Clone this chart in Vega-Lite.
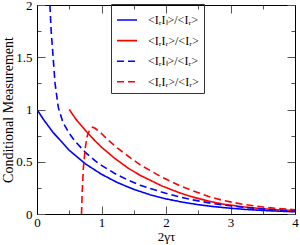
{
  "$schema": "https://vega.github.io/schema/vega-lite/v6.json",
  "width": 258,
  "height": 209,
  "autosize": {"type": "none"},
  "padding": {"left": 37, "top": 5, "right": 5, "bottom": 31},
  "background": "white",
  "config": {
    "view": {"stroke": null},
    "font": "Liberation Serif",
    "axis": {"labelFont": "Liberation Serif", "titleFont": "Liberation Serif", "labelFontSize": 13, "titleFontSize": 14, "titleFontWeight": "normal", "labelColor": "black", "titleColor": "black", "domainColor": "black", "tickColor": "#555", "grid": false}
  },
  "data": {"values": [
    {"t": 0, "v": 1, "s": "a"}, {"t": 0.1, "v": 0.905, "s": "a"}, {"t": 0.25, "v": 0.78, "s": "a"}, {"t": 0.5, "v": 0.61, "s": "a"}, {"t": 0.75, "v": 0.48, "s": "a"}, {"t": 1, "v": 0.38, "s": "a"}, {"t": 1.25, "v": 0.3, "s": "a"}, {"t": 1.5, "v": 0.236, "s": "a"}, {"t": 1.75, "v": 0.185, "s": "a"}, {"t": 2, "v": 0.145, "s": "a"}, {"t": 2.25, "v": 0.114, "s": "a"}, {"t": 2.5, "v": 0.089, "s": "a"}, {"t": 2.75, "v": 0.07, "s": "a"}, {"t": 3, "v": 0.055, "s": "a"}, {"t": 3.25, "v": 0.043, "s": "a"}, {"t": 3.5, "v": 0.034, "s": "a"}, {"t": 3.75, "v": 0.027, "s": "a"}, {"t": 4, "v": 0.021, "s": "a"},
    {"t": 0.5, "v": 1.0, "s": "b"}, {"t": 0.6, "v": 0.91, "s": "b"}, {"t": 0.75, "v": 0.8, "s": "b"}, {"t": 0.9, "v": 0.7, "s": "b"}, {"t": 1.0, "v": 0.64, "s": "b"}, {"t": 1.2, "v": 0.535, "s": "b"}, {"t": 1.41, "v": 0.44, "s": "b"}, {"t": 1.6, "v": 0.37, "s": "b"}, {"t": 1.93, "v": 0.27, "s": "b"}, {"t": 2.2, "v": 0.205, "s": "b"}, {"t": 2.4, "v": 0.165, "s": "b"}, {"t": 2.65, "v": 0.125, "s": "b"}, {"t": 2.88, "v": 0.095, "s": "b"}, {"t": 3.2, "v": 0.068, "s": "b"}, {"t": 3.5, "v": 0.05, "s": "b"}, {"t": 3.75, "v": 0.04, "s": "b"}, {"t": 4, "v": 0.033, "s": "b"},
    {"t": 0.2, "v": 2.0, "s": "c"}, {"t": 0.22, "v": 1.75, "s": "c"}, {"t": 0.25, "v": 1.5, "s": "c"}, {"t": 0.28, "v": 1.25, "s": "c"}, {"t": 0.33, "v": 1.02, "s": "c"}, {"t": 0.4, "v": 0.88, "s": "c"}, {"t": 0.5, "v": 0.77, "s": "c"}, {"t": 0.6, "v": 0.69, "s": "c"}, {"t": 0.75, "v": 0.59, "s": "c"}, {"t": 0.9, "v": 0.51, "s": "c"}, {"t": 1, "v": 0.465, "s": "c"}, {"t": 1.2, "v": 0.39, "s": "c"}, {"t": 1.41, "v": 0.325, "s": "c"}, {"t": 1.6, "v": 0.275, "s": "c"}, {"t": 1.93, "v": 0.21, "s": "c"}, {"t": 2.2, "v": 0.165, "s": "c"}, {"t": 2.4, "v": 0.137, "s": "c"}, {"t": 2.7, "v": 0.103, "s": "c"}, {"t": 2.88, "v": 0.087, "s": "c"}, {"t": 3.2, "v": 0.064, "s": "c"}, {"t": 3.5, "v": 0.048, "s": "c"}, {"t": 3.75, "v": 0.038, "s": "c"}, {"t": 4, "v": 0.03, "s": "c"},
    {"t": 0.69, "v": 0, "s": "d"}, {"t": 0.7, "v": 0.2, "s": "d"}, {"t": 0.72, "v": 0.45, "s": "d"}, {"t": 0.75, "v": 0.64, "s": "d"}, {"t": 0.78, "v": 0.75, "s": "d"}, {"t": 0.82, "v": 0.81, "s": "d"}, {"t": 0.86, "v": 0.83, "s": "d"}, {"t": 0.9, "v": 0.82, "s": "d"}, {"t": 1, "v": 0.77, "s": "d"}, {"t": 1.1, "v": 0.71, "s": "d"}, {"t": 1.25, "v": 0.63, "s": "d"}, {"t": 1.41, "v": 0.555, "s": "d"}, {"t": 1.6, "v": 0.47, "s": "d"}, {"t": 1.93, "v": 0.355, "s": "d"}, {"t": 2.2, "v": 0.275, "s": "d"}, {"t": 2.4, "v": 0.225, "s": "d"}, {"t": 2.65, "v": 0.17, "s": "d"}, {"t": 2.88, "v": 0.13, "s": "d"}, {"t": 3.2, "v": 0.092, "s": "d"}, {"t": 3.5, "v": 0.067, "s": "d"}, {"t": 3.75, "v": 0.052, "s": "d"}, {"t": 4, "v": 0.041, "s": "d"}
  ]},
  "layer": [
    {
      "mark": {"type": "line", "strokeWidth": 1.6, "clip": true},
      "encoding": {
        "x": {"field": "t", "type": "quantitative", "scale": {"domain": [0, 4], "nice": false},
          "axis": {"orient": "bottom", "title": "2γτ", "titleFontSize": 13, "values": [0, 0.5, 1, 1.5, 2, 2.5, 3, 3.5, 4], "labelExpr": "datum.value % 1 === 0 ? format(datum.value, '~g') : ''", "tickSize": {"condition": {"test": "datum.value % 1 === 0", "value": -8}, "value": -4}, "labelPadding": 10, "titlePadding": -3, "labelFlush": false, "labelOverlap": false}},
        "y": {"field": "v", "type": "quantitative", "scale": {"domain": [0, 2], "nice": false},
          "axis": {"orient": "left", "title": "Conditional Measurement", "values": [0, 0.25, 0.5, 0.75, 1, 1.25, 1.5, 1.75, 2], "labelExpr": "(datum.value * 2) % 1 === 0 ? format(datum.value, '~g') : ''", "tickSize": {"condition": {"test": "(datum.value * 2) % 1 === 0", "value": -8}, "value": -4}, "labelPadding": 13, "titlePadding": 0, "labelFlush": false, "labelOverlap": false}},
        "color": {"field": "s", "type": "nominal", "scale": {"domain": ["a", "b", "c", "d"], "range": ["#0000ff", "#ff0000", "#0000ff", "#ff0000"]},
          "legend": {"orient": "none", "legendX": 74, "legendY": -1, "title": null, "symbolType": "stroke", "symbolSize": 400, "symbolStrokeWidth": 1.6, "labelFont": "Liberation Serif", "labelFontSize": 12, "labelColor": "black", "labelOffset": 10, "strokeColor": "#333", "padding": 5, "rowPadding": 3.6, "labelExpr": "datum.value === 'a' || datum.value === 'c' ? '<IᵣIₗ>/<Iᵣ>' : '<IᵣIᵣ>/<Iᵣ>'"}},
        "strokeDash": {"field": "s", "type": "nominal", "scale": {"domain": ["a", "b", "c", "d"], "range": [[1, 0], [1, 0], [7, 4], [7, 4]]},
          "legend": {"orient": "none", "legendX": 74, "legendY": -1, "title": null, "symbolType": "stroke", "symbolSize": 400, "symbolStrokeWidth": 1.6, "labelFont": "Liberation Serif", "labelFontSize": 12, "labelColor": "black", "labelOffset": 10, "strokeColor": "#333", "padding": 5, "rowPadding": 3.6, "labelExpr": "datum.value === 'a' || datum.value === 'c' ? '<IᵣIₗ>/<Iᵣ>' : '<IᵣIᵣ>/<Iᵣ>'"}}
      }
    },
    {
      "mark": {"type": "line", "opacity": 0},
      "encoding": {
        "x": {"field": "t", "type": "quantitative", "scale": {"domain": [0, 4], "nice": false},
          "axis": {"orient": "top", "title": null, "values": [0, 0.5, 1, 1.5, 2, 2.5, 3, 3.5, 4], "labels": false, "tickSize": {"condition": {"test": "datum.value % 1 === 0", "value": -8}, "value": -4}}},
        "y": {"field": "v", "type": "quantitative", "scale": {"domain": [0, 2], "nice": false},
          "axis": {"orient": "right", "title": null, "values": [0, 0.25, 0.5, 0.75, 1, 1.25, 1.5, 1.75, 2], "labels": false, "tickSize": {"condition": {"test": "(datum.value * 2) % 1 === 0", "value": -8}, "value": -4}}},
        "detail": {"field": "s", "type": "nominal"}
      }
    }
  ],
  "resolve": {"axis": {"x": "independent", "y": "independent"}}
}
